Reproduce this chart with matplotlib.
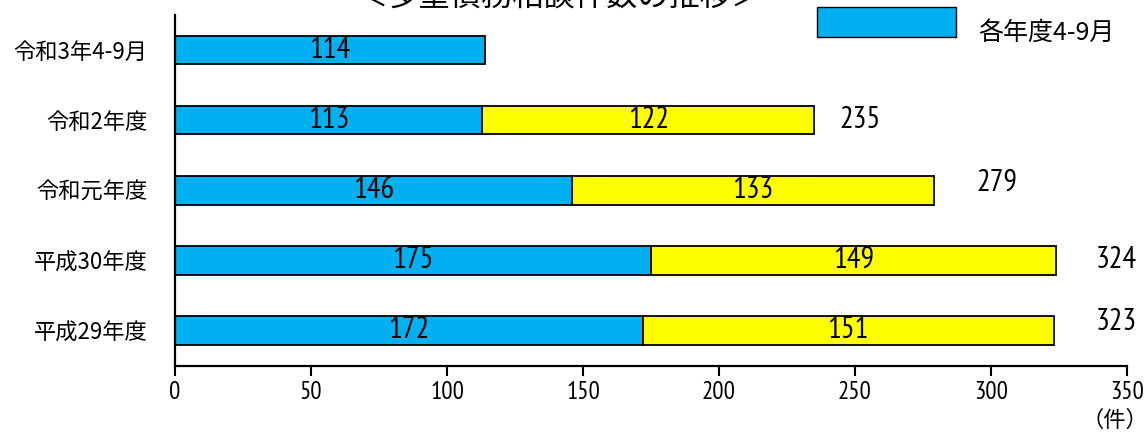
import matplotlib
matplotlib.use("Agg")
import matplotlib.pyplot as plt
from matplotlib.patches import Rectangle

plt.rcParams['font.family'] = ['Noto Sans CJK JP', 'DejaVu Sans']

# Consultation counts (bottom row first)
categories = ['平成29年度', '平成30年度', '令和元年度', '令和2年度', '令和3年4-9月']
first_half = [172, 175, 146, 113, 114]      # 4-9月
second_half = [151, 149, 133, 122, None]    # 10-3月
total_offset = [(23, 0.12), (22, 0.0), (23, 0.1), (17, 0.0), None]

title = '＜多重債務相談件数の推移＞'
legend_label = '各年度4-9月'
unit_label = '（件）'
xticks = [0, 50, 100, 150, 200, 250, 300, 350]

BLUE = '#00B0F0'
YELLOW = '#FFFF00'
NUM_FONT = ['PT Sans Narrow', 'Archivo Narrow', 'DejaVu Sans']

W, H = 1148, 434
fig = plt.figure(figsize=(W / 100, H / 100), dpi=100)
ax = fig.add_axes([175 / W, (H - 366) / H, 952 / W, (366 - 15) / H])

ypos = list(range(len(categories)))
bar_h = 0.41
ax.barh(ypos, first_half, height=bar_h, color=BLUE, edgecolor='black', linewidth=1.3)
for y, a, b in zip(ypos, first_half, second_half):
    ax.text(a / 2, y, str(a), ha='center', va='center', fontsize=22, family=NUM_FONT)
    if b is None:
        continue
    ax.barh(y, b, left=a, height=bar_h, color=YELLOW, edgecolor='black', linewidth=1.3)
    ax.text(a + b / 2, y, str(b), ha='center', va='center', fontsize=22, family=NUM_FONT)

for y, a, b, off in zip(ypos, first_half, second_half, total_offset):
    if b is None:
        continue
    tot = a + b
    ax.text(tot + off[0], y + off[1], str(tot), ha='center', va='center',
            fontsize=22, family=NUM_FONT)

ax.set_xlim(0, 350)
ax.set_ylim(-0.51, 4.5)
ax.set_xticks(xticks)
ax.set_xticklabels([str(v) for v in xticks], fontsize=18, family=NUM_FONT)
ax.set_yticks(ypos)
ax.set_yticklabels(categories, fontsize=16)
ax.tick_params(axis='y', length=0, pad=20)
ax.tick_params(axis='x', length=7, width=1.5, direction='out', pad=4)
for side in ('top', 'right'):
    ax.spines[side].set_visible(False)
for side in ('left', 'bottom'):
    ax.spines[side].set_linewidth(1.6)

fig.text(560 / W, (H - 14) / H, title, ha='center', va='bottom', fontsize=22.5)

fig.patches.append(Rectangle((817 / W, (H - 37) / H), 139 / W, 30 / H,
                             transform=fig.transFigure, facecolor=BLUE,
                             edgecolor='black', linewidth=1.0))
fig.text(978 / W, (H - 33) / H, legend_label, ha='left', va='center', fontsize=18)
fig.text(1115 / W, (H - 420) / H, unit_label, ha='center', va='center', fontsize=16)

fig.savefig('out.png', dpi=100)
